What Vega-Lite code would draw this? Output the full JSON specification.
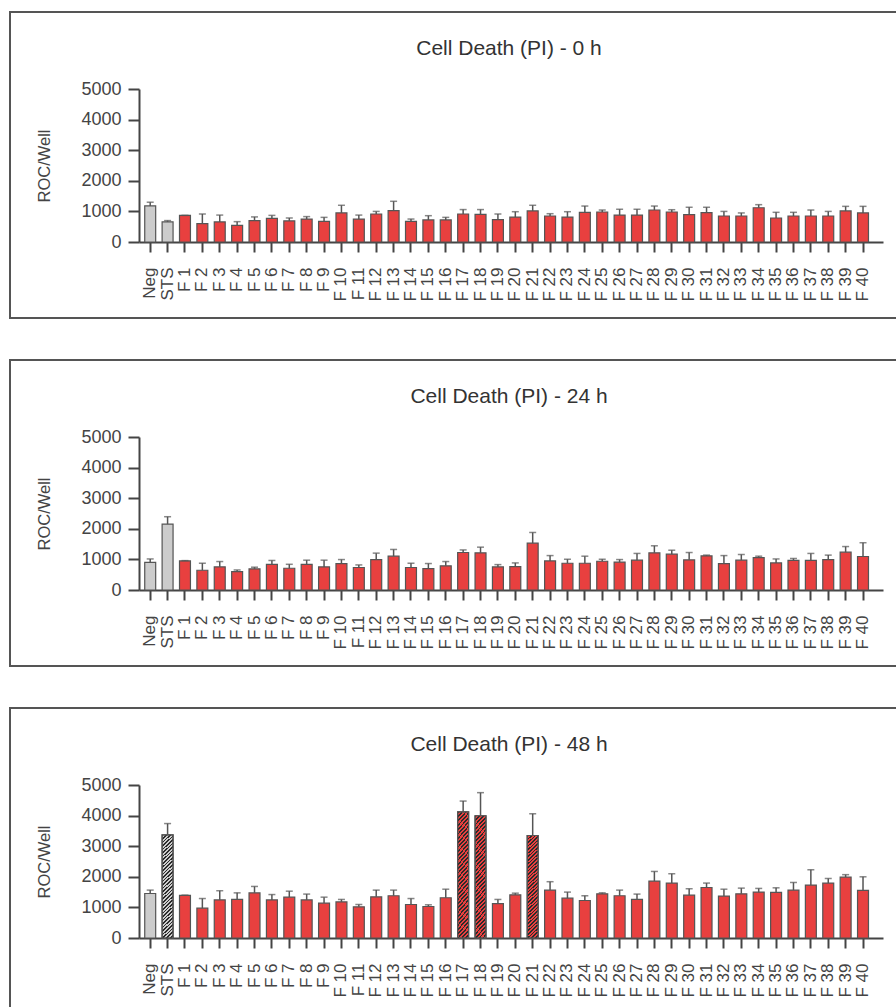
{
"$schema": "https://vega.github.io/schema/vega-lite/v6.json",
"padding": {"left": 9, "top": 11, "right": 0, "bottom": 0},
"spacing": 40,
"config": {
 "font": "Liberation Sans",
 "view": {"stroke": "#555555", "strokeWidth": 2},
 "axis": {"labelColor": "#444444", "titleColor": "#444444", "domainColor": "#444444", "tickColor": "#444444", "domainWidth": 2, "tickWidth": 2, "grid": false, "titleFontWeight": "normal"}
},
"data": {"values": [
{"t":"0 h","s":"Neg","g":"Control","v":1180,"hi":1300},
{"t":"0 h","s":"STS","g":"Control","v":660,"hi":700},
{"t":"0 h","s":"F 1","g":"Fraction","v":870,"hi":870},
{"t":"0 h","s":"F 2","g":"Fraction","v":600,"hi":915},
{"t":"0 h","s":"F 3","g":"Fraction","v":655,"hi":880},
{"t":"0 h","s":"F 4","g":"Fraction","v":545,"hi":665},
{"t":"0 h","s":"F 5","g":"Fraction","v":700,"hi":820},
{"t":"0 h","s":"F 6","g":"Fraction","v":770,"hi":870},
{"t":"0 h","s":"F 7","g":"Fraction","v":690,"hi":785},
{"t":"0 h","s":"F 8","g":"Fraction","v":750,"hi":830},
{"t":"0 h","s":"F 9","g":"Fraction","v":675,"hi":805},
{"t":"0 h","s":"F 10","g":"Fraction","v":950,"hi":1200},
{"t":"0 h","s":"F 11","g":"Fraction","v":750,"hi":880},
{"t":"0 h","s":"F 12","g":"Fraction","v":915,"hi":1000},
{"t":"0 h","s":"F 13","g":"Fraction","v":1025,"hi":1330},
{"t":"0 h","s":"F 14","g":"Fraction","v":675,"hi":750},
{"t":"0 h","s":"F 15","g":"Fraction","v":720,"hi":860},
{"t":"0 h","s":"F 16","g":"Fraction","v":720,"hi":805},
{"t":"0 h","s":"F 17","g":"Fraction","v":915,"hi":1060},
{"t":"0 h","s":"F 18","g":"Fraction","v":900,"hi":1060},
{"t":"0 h","s":"F 19","g":"Fraction","v":730,"hi":915},
{"t":"0 h","s":"F 20","g":"Fraction","v":815,"hi":990},
{"t":"0 h","s":"F 21","g":"Fraction","v":1015,"hi":1200},
{"t":"0 h","s":"F 22","g":"Fraction","v":850,"hi":925},
{"t":"0 h","s":"F 23","g":"Fraction","v":815,"hi":990},
{"t":"0 h","s":"F 24","g":"Fraction","v":970,"hi":1175},
{"t":"0 h","s":"F 25","g":"Fraction","v":980,"hi":1045},
{"t":"0 h","s":"F 26","g":"Fraction","v":880,"hi":1070},
{"t":"0 h","s":"F 27","g":"Fraction","v":880,"hi":1070},
{"t":"0 h","s":"F 28","g":"Fraction","v":1045,"hi":1175},
{"t":"0 h","s":"F 29","g":"Fraction","v":980,"hi":1055},
{"t":"0 h","s":"F 30","g":"Fraction","v":895,"hi":1135},
{"t":"0 h","s":"F 31","g":"Fraction","v":960,"hi":1135},
{"t":"0 h","s":"F 32","g":"Fraction","v":850,"hi":1000},
{"t":"0 h","s":"F 33","g":"Fraction","v":850,"hi":950},
{"t":"0 h","s":"F 34","g":"Fraction","v":1120,"hi":1220},
{"t":"0 h","s":"F 35","g":"Fraction","v":785,"hi":970},
{"t":"0 h","s":"F 36","g":"Fraction","v":850,"hi":970},
{"t":"0 h","s":"F 37","g":"Fraction","v":850,"hi":1045},
{"t":"0 h","s":"F 38","g":"Fraction","v":850,"hi":1000},
{"t":"0 h","s":"F 39","g":"Fraction","v":1015,"hi":1165},
{"t":"0 h","s":"F 40","g":"Fraction","v":950,"hi":1165},
{"t":"24 h","s":"Neg","g":"Control","v":900,"hi":1015},
{"t":"24 h","s":"STS","g":"Control","v":2155,"hi":2395},
{"t":"24 h","s":"F 1","g":"Fraction","v":950,"hi":960},
{"t":"24 h","s":"F 2","g":"Fraction","v":645,"hi":875},
{"t":"24 h","s":"F 3","g":"Fraction","v":755,"hi":930},
{"t":"24 h","s":"F 4","g":"Fraction","v":600,"hi":655},
{"t":"24 h","s":"F 5","g":"Fraction","v":690,"hi":745},
{"t":"24 h","s":"F 6","g":"Fraction","v":840,"hi":965},
{"t":"24 h","s":"F 7","g":"Fraction","v":710,"hi":840},
{"t":"24 h","s":"F 8","g":"Fraction","v":840,"hi":975},
{"t":"24 h","s":"F 9","g":"Fraction","v":755,"hi":975},
{"t":"24 h","s":"F 10","g":"Fraction","v":865,"hi":995},
{"t":"24 h","s":"F 11","g":"Fraction","v":735,"hi":820},
{"t":"24 h","s":"F 12","g":"Fraction","v":995,"hi":1205},
{"t":"24 h","s":"F 13","g":"Fraction","v":1105,"hi":1325},
{"t":"24 h","s":"F 14","g":"Fraction","v":735,"hi":875},
{"t":"24 h","s":"F 15","g":"Fraction","v":700,"hi":865},
{"t":"24 h","s":"F 16","g":"Fraction","v":790,"hi":930},
{"t":"24 h","s":"F 17","g":"Fraction","v":1225,"hi":1310},
{"t":"24 h","s":"F 18","g":"Fraction","v":1215,"hi":1400},
{"t":"24 h","s":"F 19","g":"Fraction","v":755,"hi":830},
{"t":"24 h","s":"F 20","g":"Fraction","v":765,"hi":885},
{"t":"24 h","s":"F 21","g":"Fraction","v":1530,"hi":1880},
{"t":"24 h","s":"F 22","g":"Fraction","v":950,"hi":1125},
{"t":"24 h","s":"F 23","g":"Fraction","v":875,"hi":1005},
{"t":"24 h","s":"F 24","g":"Fraction","v":875,"hi":1105},
{"t":"24 h","s":"F 25","g":"Fraction","v":940,"hi":1005},
{"t":"24 h","s":"F 26","g":"Fraction","v":910,"hi":995},
{"t":"24 h","s":"F 27","g":"Fraction","v":975,"hi":1195},
{"t":"24 h","s":"F 28","g":"Fraction","v":1215,"hi":1445},
{"t":"24 h","s":"F 29","g":"Fraction","v":1170,"hi":1300},
{"t":"24 h","s":"F 30","g":"Fraction","v":985,"hi":1225},
{"t":"24 h","s":"F 31","g":"Fraction","v":1115,"hi":1140},
{"t":"24 h","s":"F 32","g":"Fraction","v":865,"hi":1125},
{"t":"24 h","s":"F 33","g":"Fraction","v":975,"hi":1160},
{"t":"24 h","s":"F 34","g":"Fraction","v":1060,"hi":1105},
{"t":"24 h","s":"F 35","g":"Fraction","v":885,"hi":1015},
{"t":"24 h","s":"F 36","g":"Fraction","v":965,"hi":1030},
{"t":"24 h","s":"F 37","g":"Fraction","v":965,"hi":1195},
{"t":"24 h","s":"F 38","g":"Fraction","v":995,"hi":1140},
{"t":"24 h","s":"F 39","g":"Fraction","v":1235,"hi":1420},
{"t":"24 h","s":"F 40","g":"Fraction","v":1095,"hi":1545},
{"t":"48 h","s":"Neg","g":"Control","v":1455,"hi":1565},
{"t":"48 h","s":"STS","g":"Control","v":3370,"hi":3740,"sig":1},
{"t":"48 h","s":"F 1","g":"Fraction","v":1390,"hi":1400},
{"t":"48 h","s":"F 2","g":"Fraction","v":975,"hi":1290},
{"t":"48 h","s":"F 3","g":"Fraction","v":1245,"hi":1545},
{"t":"48 h","s":"F 4","g":"Fraction","v":1260,"hi":1475},
{"t":"48 h","s":"F 5","g":"Fraction","v":1475,"hi":1685},
{"t":"48 h","s":"F 6","g":"Fraction","v":1245,"hi":1420},
{"t":"48 h","s":"F 7","g":"Fraction","v":1335,"hi":1530},
{"t":"48 h","s":"F 8","g":"Fraction","v":1245,"hi":1435},
{"t":"48 h","s":"F 9","g":"Fraction","v":1140,"hi":1335},
{"t":"48 h","s":"F 10","g":"Fraction","v":1180,"hi":1260},
{"t":"48 h","s":"F 11","g":"Fraction","v":1020,"hi":1095},
{"t":"48 h","s":"F 12","g":"Fraction","v":1345,"hi":1565},
{"t":"48 h","s":"F 13","g":"Fraction","v":1380,"hi":1565},
{"t":"48 h","s":"F 14","g":"Fraction","v":1095,"hi":1290},
{"t":"48 h","s":"F 15","g":"Fraction","v":1030,"hi":1085},
{"t":"48 h","s":"F 16","g":"Fraction","v":1315,"hi":1595},
{"t":"48 h","s":"F 17","g":"Fraction","v":4125,"hi":4475,"sig":1},
{"t":"48 h","s":"F 18","g":"Fraction","v":3995,"hi":4750,"sig":1},
{"t":"48 h","s":"F 19","g":"Fraction","v":1125,"hi":1260},
{"t":"48 h","s":"F 20","g":"Fraction","v":1410,"hi":1465},
{"t":"48 h","s":"F 21","g":"Fraction","v":3350,"hi":4060,"sig":1},
{"t":"48 h","s":"F 22","g":"Fraction","v":1565,"hi":1840},
{"t":"48 h","s":"F 23","g":"Fraction","v":1300,"hi":1500},
{"t":"48 h","s":"F 24","g":"Fraction","v":1225,"hi":1380},
{"t":"48 h","s":"F 25","g":"Fraction","v":1445,"hi":1475},
{"t":"48 h","s":"F 26","g":"Fraction","v":1380,"hi":1565},
{"t":"48 h","s":"F 27","g":"Fraction","v":1260,"hi":1435},
{"t":"48 h","s":"F 28","g":"Fraction","v":1860,"hi":2175},
{"t":"48 h","s":"F 29","g":"Fraction","v":1795,"hi":2100},
{"t":"48 h","s":"F 30","g":"Fraction","v":1400,"hi":1610},
{"t":"48 h","s":"F 31","g":"Fraction","v":1650,"hi":1795},
{"t":"48 h","s":"F 32","g":"Fraction","v":1370,"hi":1595},
{"t":"48 h","s":"F 33","g":"Fraction","v":1445,"hi":1630},
{"t":"48 h","s":"F 34","g":"Fraction","v":1500,"hi":1620},
{"t":"48 h","s":"F 35","g":"Fraction","v":1490,"hi":1640},
{"t":"48 h","s":"F 36","g":"Fraction","v":1565,"hi":1815},
{"t":"48 h","s":"F 37","g":"Fraction","v":1730,"hi":2230},
{"t":"48 h","s":"F 38","g":"Fraction","v":1795,"hi":1945},
{"t":"48 h","s":"F 39","g":"Fraction","v":1990,"hi":2070},
{"t":"48 h","s":"F 40","g":"Fraction","v":1555,"hi":2000}
]},
"vconcat": [
{
 "title": {"text": "Cell Death (PI) - 0 h", "fontSize": 21, "fontWeight": "normal", "color": "#333333", "anchor": "middle", "offset": 0, "dy": 64, "dx": 49, "baseline": "alphabetic"},
 "width": 900, "height": 306,
 "transform": [{"filter": "datum.t === '0 h'"}],
 "encoding": {
  "x": {"field": "s", "type": "nominal", "sort": null, "title": null,
   "scale": {"range": [129, 873], "paddingInner": 0.37, "paddingOuter": 0.582, "align": 0.283},
   "axis": {"orient": "bottom", "offset": -76, "labelAngle": 270, "labelPadding": 15, "labelFontSize": 17, "tickSize": 10, "labelOverlap": false, "labelBound": false}},
  "y": {"field": "v", "type": "quantitative", "title": "ROC/Well",
   "scale": {"domain": [0, 5000], "range": [230, 77], "nice": false},
   "axis": {"orient": "left", "offset": -129, "values": [0, 1000, 2000, 3000, 4000, 5000], "format": "d", "tickSize": 11, "labelPadding": 7, "labelFontSize": 18, "titleFontSize": 16.5, "titlePadding": 28}}
 },
 "layer": [
  {"mark": {"type": "bar", "stroke": "#555555", "strokeWidth": 1.2}, "encoding": {"color": {"field": "g", "type": "nominal", "scale": {"domain": ["Control", "Fraction"], "range": ["#cccccc", "#e8403f"]}, "legend": null}}},
  {"mark": {"type": "rule", "color": "#555555", "strokeWidth": 1.5}, "encoding": {"y2": {"field": "hi"}}},
  {"mark": {"type": "tick", "orient": "horizontal", "size": 7, "thickness": 1.5, "color": "#555555"}, "encoding": {"y": {"field": "hi", "type": "quantitative", "title": "ROC/Well"}}}
 ]
},
{
 "title": {"text": "Cell Death (PI) - 24 h", "fontSize": 21, "fontWeight": "normal", "color": "#333333", "anchor": "middle", "offset": 0, "dy": 64, "dx": 49, "baseline": "alphabetic"},
 "width": 900, "height": 306,
 "transform": [{"filter": "datum.t === '24 h'"}],
 "encoding": {
  "x": {"field": "s", "type": "nominal", "sort": null, "title": null,
   "scale": {"range": [129, 873], "paddingInner": 0.37, "paddingOuter": 0.582, "align": 0.283},
   "axis": {"orient": "bottom", "offset": -76, "labelAngle": 270, "labelPadding": 15, "labelFontSize": 17, "tickSize": 10, "labelOverlap": false, "labelBound": false}},
  "y": {"field": "v", "type": "quantitative", "title": "ROC/Well",
   "scale": {"domain": [0, 5000], "range": [230, 77], "nice": false},
   "axis": {"orient": "left", "offset": -129, "values": [0, 1000, 2000, 3000, 4000, 5000], "format": "d", "tickSize": 11, "labelPadding": 7, "labelFontSize": 18, "titleFontSize": 16.5, "titlePadding": 28}}
 },
 "layer": [
  {"mark": {"type": "bar", "stroke": "#555555", "strokeWidth": 1.2}, "encoding": {"color": {"field": "g", "type": "nominal", "scale": {"domain": ["Control", "Fraction"], "range": ["#cccccc", "#e8403f"]}, "legend": null}}},
  {"mark": {"type": "rule", "color": "#555555", "strokeWidth": 1.5}, "encoding": {"y2": {"field": "hi"}}},
  {"mark": {"type": "tick", "orient": "horizontal", "size": 7, "thickness": 1.5, "color": "#555555"}, "encoding": {"y": {"field": "hi", "type": "quantitative", "title": "ROC/Well"}}}
 ]
},
{
 "title": {"text": "Cell Death (PI) - 48 h", "fontSize": 21, "fontWeight": "normal", "color": "#333333", "anchor": "middle", "offset": 0, "dy": 64, "dx": 49, "baseline": "alphabetic"},
 "width": 900, "height": 306,
 "transform": [{"filter": "datum.t === '48 h'"}],
 "encoding": {
  "x": {"field": "s", "type": "nominal", "sort": null, "title": null,
   "scale": {"range": [129, 873], "paddingInner": 0.37, "paddingOuter": 0.582, "align": 0.283},
   "axis": {"orient": "bottom", "offset": -76, "labelAngle": 270, "labelPadding": 15, "labelFontSize": 17, "tickSize": 10, "labelOverlap": false, "labelBound": false}},
  "y": {"field": "v", "type": "quantitative", "title": "ROC/Well",
   "scale": {"domain": [0, 5000], "range": [230, 77], "nice": false},
   "axis": {"orient": "left", "offset": -129, "values": [0, 1000, 2000, 3000, 4000, 5000], "format": "d", "tickSize": 11, "labelPadding": 7, "labelFontSize": 18, "titleFontSize": 16.5, "titlePadding": 28}}
 },
 "layer": [
  {"mark": {"type": "bar", "stroke": "#555555", "strokeWidth": 1.2}, "encoding": {"color": {"field": "g", "type": "nominal", "scale": {"domain": ["Control", "Fraction"], "range": ["#cccccc", "#e8403f"]}, "legend": null}}},
  {"transform": [{"filter": "datum.sig === 1"}],
   "mark": {"type": "bar", "stroke": "#555555", "strokeWidth": 1.2,
    "fill": {"gradient": "linear", "x1": 0, "y1": 0, "x2": 0.109, "y2": 1.089, "stops": [
{"offset":0,"color":"#2b2b2b"},{"offset":0.014,"color":"#2b2b2b"},{"offset":0.014,"color":"rgba(0,0,0,0)"},{"offset":0.03125,"color":"rgba(0,0,0,0)"},
{"offset":0.03125,"color":"#2b2b2b"},{"offset":0.04525,"color":"#2b2b2b"},{"offset":0.04525,"color":"rgba(0,0,0,0)"},{"offset":0.0625,"color":"rgba(0,0,0,0)"},
{"offset":0.0625,"color":"#2b2b2b"},{"offset":0.0765,"color":"#2b2b2b"},{"offset":0.0765,"color":"rgba(0,0,0,0)"},{"offset":0.09375,"color":"rgba(0,0,0,0)"},
{"offset":0.09375,"color":"#2b2b2b"},{"offset":0.10775,"color":"#2b2b2b"},{"offset":0.10775,"color":"rgba(0,0,0,0)"},{"offset":0.125,"color":"rgba(0,0,0,0)"},
{"offset":0.125,"color":"#2b2b2b"},{"offset":0.139,"color":"#2b2b2b"},{"offset":0.139,"color":"rgba(0,0,0,0)"},{"offset":0.15625,"color":"rgba(0,0,0,0)"},
{"offset":0.15625,"color":"#2b2b2b"},{"offset":0.17025,"color":"#2b2b2b"},{"offset":0.17025,"color":"rgba(0,0,0,0)"},{"offset":0.1875,"color":"rgba(0,0,0,0)"},
{"offset":0.1875,"color":"#2b2b2b"},{"offset":0.2015,"color":"#2b2b2b"},{"offset":0.2015,"color":"rgba(0,0,0,0)"},{"offset":0.21875,"color":"rgba(0,0,0,0)"},
{"offset":0.21875,"color":"#2b2b2b"},{"offset":0.23275,"color":"#2b2b2b"},{"offset":0.23275,"color":"rgba(0,0,0,0)"},{"offset":0.25,"color":"rgba(0,0,0,0)"},
{"offset":0.25,"color":"#2b2b2b"},{"offset":0.264,"color":"#2b2b2b"},{"offset":0.264,"color":"rgba(0,0,0,0)"},{"offset":0.28125,"color":"rgba(0,0,0,0)"},
{"offset":0.28125,"color":"#2b2b2b"},{"offset":0.29525,"color":"#2b2b2b"},{"offset":0.29525,"color":"rgba(0,0,0,0)"},{"offset":0.3125,"color":"rgba(0,0,0,0)"},
{"offset":0.3125,"color":"#2b2b2b"},{"offset":0.3265,"color":"#2b2b2b"},{"offset":0.3265,"color":"rgba(0,0,0,0)"},{"offset":0.34375,"color":"rgba(0,0,0,0)"},
{"offset":0.34375,"color":"#2b2b2b"},{"offset":0.35775,"color":"#2b2b2b"},{"offset":0.35775,"color":"rgba(0,0,0,0)"},{"offset":0.375,"color":"rgba(0,0,0,0)"},
{"offset":0.375,"color":"#2b2b2b"},{"offset":0.389,"color":"#2b2b2b"},{"offset":0.389,"color":"rgba(0,0,0,0)"},{"offset":0.40625,"color":"rgba(0,0,0,0)"},
{"offset":0.40625,"color":"#2b2b2b"},{"offset":0.42025,"color":"#2b2b2b"},{"offset":0.42025,"color":"rgba(0,0,0,0)"},{"offset":0.4375,"color":"rgba(0,0,0,0)"},
{"offset":0.4375,"color":"#2b2b2b"},{"offset":0.4515,"color":"#2b2b2b"},{"offset":0.4515,"color":"rgba(0,0,0,0)"},{"offset":0.46875,"color":"rgba(0,0,0,0)"},
{"offset":0.46875,"color":"#2b2b2b"},{"offset":0.48275,"color":"#2b2b2b"},{"offset":0.48275,"color":"rgba(0,0,0,0)"},{"offset":0.5,"color":"rgba(0,0,0,0)"},
{"offset":0.5,"color":"#2b2b2b"},{"offset":0.514,"color":"#2b2b2b"},{"offset":0.514,"color":"rgba(0,0,0,0)"},{"offset":0.53125,"color":"rgba(0,0,0,0)"},
{"offset":0.53125,"color":"#2b2b2b"},{"offset":0.54525,"color":"#2b2b2b"},{"offset":0.54525,"color":"rgba(0,0,0,0)"},{"offset":0.5625,"color":"rgba(0,0,0,0)"},
{"offset":0.5625,"color":"#2b2b2b"},{"offset":0.5765,"color":"#2b2b2b"},{"offset":0.5765,"color":"rgba(0,0,0,0)"},{"offset":0.59375,"color":"rgba(0,0,0,0)"},
{"offset":0.59375,"color":"#2b2b2b"},{"offset":0.60775,"color":"#2b2b2b"},{"offset":0.60775,"color":"rgba(0,0,0,0)"},{"offset":0.625,"color":"rgba(0,0,0,0)"},
{"offset":0.625,"color":"#2b2b2b"},{"offset":0.639,"color":"#2b2b2b"},{"offset":0.639,"color":"rgba(0,0,0,0)"},{"offset":0.65625,"color":"rgba(0,0,0,0)"},
{"offset":0.65625,"color":"#2b2b2b"},{"offset":0.67025,"color":"#2b2b2b"},{"offset":0.67025,"color":"rgba(0,0,0,0)"},{"offset":0.6875,"color":"rgba(0,0,0,0)"},
{"offset":0.6875,"color":"#2b2b2b"},{"offset":0.7015,"color":"#2b2b2b"},{"offset":0.7015,"color":"rgba(0,0,0,0)"},{"offset":0.71875,"color":"rgba(0,0,0,0)"},
{"offset":0.71875,"color":"#2b2b2b"},{"offset":0.73275,"color":"#2b2b2b"},{"offset":0.73275,"color":"rgba(0,0,0,0)"},{"offset":0.75,"color":"rgba(0,0,0,0)"},
{"offset":0.75,"color":"#2b2b2b"},{"offset":0.764,"color":"#2b2b2b"},{"offset":0.764,"color":"rgba(0,0,0,0)"},{"offset":0.78125,"color":"rgba(0,0,0,0)"},
{"offset":0.78125,"color":"#2b2b2b"},{"offset":0.79525,"color":"#2b2b2b"},{"offset":0.79525,"color":"rgba(0,0,0,0)"},{"offset":0.8125,"color":"rgba(0,0,0,0)"},
{"offset":0.8125,"color":"#2b2b2b"},{"offset":0.8265,"color":"#2b2b2b"},{"offset":0.8265,"color":"rgba(0,0,0,0)"},{"offset":0.84375,"color":"rgba(0,0,0,0)"},
{"offset":0.84375,"color":"#2b2b2b"},{"offset":0.85775,"color":"#2b2b2b"},{"offset":0.85775,"color":"rgba(0,0,0,0)"},{"offset":0.875,"color":"rgba(0,0,0,0)"},
{"offset":0.875,"color":"#2b2b2b"},{"offset":0.889,"color":"#2b2b2b"},{"offset":0.889,"color":"rgba(0,0,0,0)"},{"offset":0.90625,"color":"rgba(0,0,0,0)"},
{"offset":0.90625,"color":"#2b2b2b"},{"offset":0.92025,"color":"#2b2b2b"},{"offset":0.92025,"color":"rgba(0,0,0,0)"},{"offset":0.9375,"color":"rgba(0,0,0,0)"},
{"offset":0.9375,"color":"#2b2b2b"},{"offset":0.9515,"color":"#2b2b2b"},{"offset":0.9515,"color":"rgba(0,0,0,0)"},{"offset":0.96875,"color":"rgba(0,0,0,0)"},
{"offset":0.96875,"color":"#2b2b2b"},{"offset":0.98275,"color":"#2b2b2b"},{"offset":0.98275,"color":"rgba(0,0,0,0)"},{"offset":1,"color":"rgba(0,0,0,0)"}
    ]}}},
  {"mark": {"type": "rule", "color": "#555555", "strokeWidth": 1.5}, "encoding": {"y2": {"field": "hi"}}},
  {"mark": {"type": "tick", "orient": "horizontal", "size": 7, "thickness": 1.5, "color": "#555555"}, "encoding": {"y": {"field": "hi", "type": "quantitative", "title": "ROC/Well"}}}
 ]
}
]
}
